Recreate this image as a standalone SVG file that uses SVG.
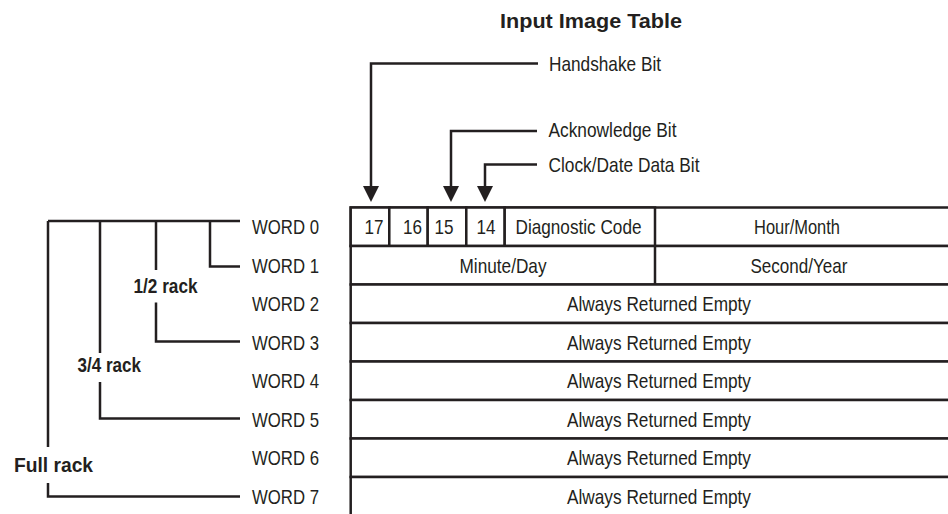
<svg xmlns="http://www.w3.org/2000/svg" width="948" height="514" viewBox="0 0 948 514">
<defs>
<style>
.t{font-family:"Liberation Sans Narrow","Liberation Sans",Arial,sans-serif;font-size:21px;fill:#231f20}
.m{text-anchor:middle}
.b{font-weight:bold}
.ln{stroke:#231f20;stroke-width:2.5;fill:none}
.cell{stroke:#231f20;stroke-width:2.5;fill:#fff}
</style>
<marker id="arr" markerUnits="userSpaceOnUse" markerWidth="16" markerHeight="16" viewBox="0 0 16 16" refX="10" refY="8" orient="auto">
<path d="M0,0 L16,8 L0,16 Z" fill="#231f20"/>
</marker>
</defs>
<rect width="948" height="514" fill="#fff"/>

<g id="title"><text class="t b" x="500" y="28" font-size="25" textLength="182" lengthAdjust="spacingAndGlyphs">Input Image Table</text></g>

<g id="callouts">
<g id="handshake"><text class="t" x="549" y="70.5" textLength="112" lengthAdjust="spacingAndGlyphs">Handshake Bit</text></g>
<g id="acknowledge"><text class="t" x="548.5" y="137" textLength="128" lengthAdjust="spacingAndGlyphs">Acknowledge Bit</text></g>
<g id="clockdate"><text class="t" x="548.5" y="172" textLength="151" lengthAdjust="spacingAndGlyphs">Clock/Date Data Bit</text></g>
</g>

<g id="table">
<g id="row0">
<rect class="cell" x="350.7" y="207.5" width="700" height="38.5"/>
<g id="bit17"><rect class="cell" x="350.7" y="207.5" width="38.6" height="38.5"/><text class="t m" x="374" y="234.3" textLength="19" lengthAdjust="spacingAndGlyphs">17</text></g>
<g id="bit16"><rect class="cell" x="389.3" y="207.5" width="38.4" height="38.5"/><text class="t m" x="412.5" y="234.3" textLength="19" lengthAdjust="spacingAndGlyphs">16</text></g>
<g id="bit15"><rect class="cell" x="427.7" y="207.5" width="38.6" height="38.5"/><text class="t m" x="444" y="234.3" textLength="19" lengthAdjust="spacingAndGlyphs">15</text></g>
<g id="bit14"><rect class="cell" x="466.3" y="207.5" width="38.4" height="38.5"/><text class="t m" x="486" y="234.3" textLength="19" lengthAdjust="spacingAndGlyphs">14</text></g>
<g id="diag"><rect class="cell" x="504.7" y="207.5" width="150.3" height="38.5"/><text class="t m" x="578.5" y="234.3" textLength="126" lengthAdjust="spacingAndGlyphs">Diagnostic Code</text></g>
<g id="hourmonth"><text class="t m" x="797" y="234.3" textLength="86" lengthAdjust="spacingAndGlyphs">Hour/Month</text></g>
</g>
<g id="row1">
<rect class="cell" x="350.7" y="246" width="700" height="38.5"/>
<line class="ln" x1="655" y1="246" x2="655" y2="284.5"/>
<g id="minuteday"><text class="t m" x="503" y="272.6" textLength="87" lengthAdjust="spacingAndGlyphs">Minute/Day</text></g>
<g id="secondyear"><text class="t m" x="799" y="272.6" textLength="97" lengthAdjust="spacingAndGlyphs">Second/Year</text></g>
</g>
<g id="row2"><rect class="cell" x="350.7" y="284.5" width="700" height="38.5"/><text class="t m" x="659" y="311" textLength="184" lengthAdjust="spacingAndGlyphs">Always Returned Empty</text></g>
<g id="row3"><rect class="cell" x="350.7" y="323" width="700" height="38.5"/><text class="t m" x="659" y="349.5" textLength="184" lengthAdjust="spacingAndGlyphs">Always Returned Empty</text></g>
<g id="row4"><rect class="cell" x="350.7" y="361.5" width="700" height="38.5"/><text class="t m" x="659" y="388" textLength="184" lengthAdjust="spacingAndGlyphs">Always Returned Empty</text></g>
<g id="row5"><rect class="cell" x="350.7" y="400" width="700" height="38.5"/><text class="t m" x="659" y="426.5" textLength="184" lengthAdjust="spacingAndGlyphs">Always Returned Empty</text></g>
<g id="row6"><rect class="cell" x="350.7" y="438.5" width="700" height="38.5"/><text class="t m" x="659" y="465" textLength="184" lengthAdjust="spacingAndGlyphs">Always Returned Empty</text></g>
<g id="row7"><rect class="cell" x="350.7" y="477" width="700" height="40"/><text class="t m" x="659" y="503.5" textLength="184" lengthAdjust="spacingAndGlyphs">Always Returned Empty</text></g>
</g>

<g id="words">
<g id="word0"><text class="t" x="252" y="234.3" textLength="67" lengthAdjust="spacingAndGlyphs">WORD 0</text></g>
<g id="word1"><text class="t" x="252" y="272.6" textLength="67" lengthAdjust="spacingAndGlyphs">WORD 1</text></g>
<g id="word2"><text class="t" x="252" y="311" textLength="67" lengthAdjust="spacingAndGlyphs">WORD 2</text></g>
<g id="word3"><text class="t" x="252" y="349.5" textLength="67" lengthAdjust="spacingAndGlyphs">WORD 3</text></g>
<g id="word4"><text class="t" x="252" y="388" textLength="67" lengthAdjust="spacingAndGlyphs">WORD 4</text></g>
<g id="word5"><text class="t" x="252" y="426.5" textLength="67" lengthAdjust="spacingAndGlyphs">WORD 5</text></g>
<g id="word6"><text class="t" x="252" y="465" textLength="67" lengthAdjust="spacingAndGlyphs">WORD 6</text></g>
<g id="word7"><text class="t" x="252" y="503.5" textLength="67" lengthAdjust="spacingAndGlyphs">WORD 7</text></g>
</g>

<g id="racks">
<g id="half"><text class="t b" x="133.5" y="292.7" font-size="19" textLength="64" lengthAdjust="spacingAndGlyphs">1/2 rack</text></g>
<g id="threequarter"><text class="t b" x="77.5" y="371.7" font-size="19" textLength="63.5" lengthAdjust="spacingAndGlyphs">3/4 rack</text></g>
<g id="full"><text class="t b" x="14" y="472" font-size="22" textLength="79" lengthAdjust="spacingAndGlyphs">Full rack</text></g>
</g>

<g id="connectors">
<path class="ln" d="M538,63.5 H371 V196" marker-end="url(#arr)"/>
<path class="ln" d="M537,131 H451 V196" marker-end="url(#arr)"/>
<path class="ln" d="M537,164.5 H485 V196" marker-end="url(#arr)"/>
<path class="ln" d="M48,221 H240"/>
<path class="ln" d="M48,221 V447 M48,483 V496.5 H240"/>
<path class="ln" d="M100,221 V353 M100,382 V418.5 H240"/>
<path class="ln" d="M156,221 V270 M156,302.5 V341.5 H240"/>
<path class="ln" d="M210,221 V266.5 H240"/>
</g>
</svg>
